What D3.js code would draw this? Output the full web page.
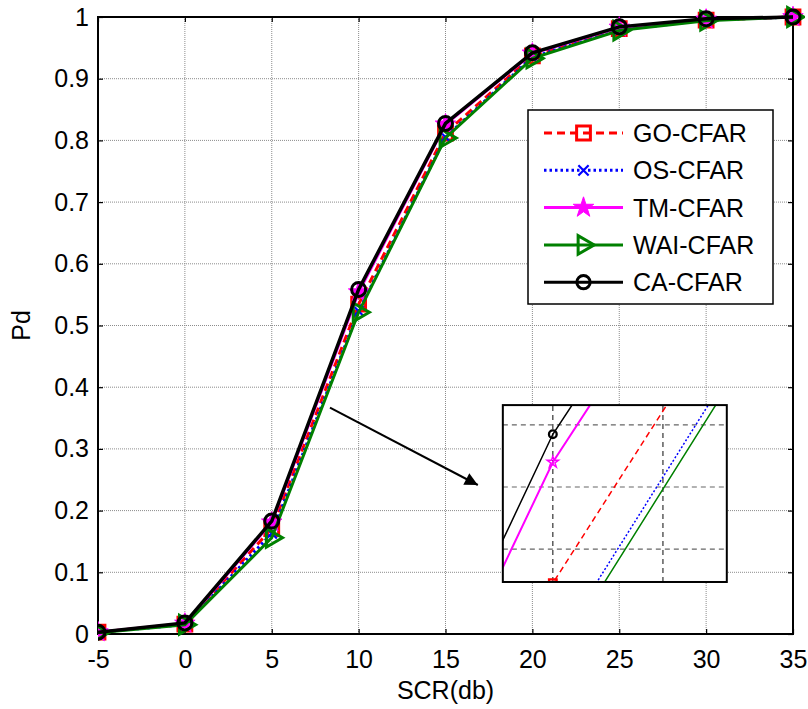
<!DOCTYPE html>
<html>
<head>
<meta charset="utf-8">
<script src="https://cdn.jsdelivr.net/npm/d3@7"></script>
<style>
    body { margin: 0; background: #ffffff; }
    text { font-family: "Liberation Sans", Arial, sans-serif; fill: #000; }
</style>
</head>
<body>
<div id="chart"></div>
<script>
// Chart values
var scr = [-5, 0, 5, 10, 15, 20, 25, 30, 35];
var goCfar = [0.003, 0.016, 0.171, 0.5345, 0.812, 0.937, 0.981, 0.995, 1.0];
var osCfar = [0.003, 0.015, 0.163, 0.5234, 0.8054, 0.935, 0.979, 0.995, 1.0];
var tmCfar = [0.003, 0.017, 0.181, 0.554, 0.826, 0.941, 0.983, 0.996, 1.0];
var waiCfar = [0.002, 0.015, 0.156, 0.5214, 0.804, 0.933, 0.978, 0.994, 1.0];
var caCfar = [0.003, 0.018, 0.183, 0.5585, 0.8275, 0.942, 0.984, 0.997, 1.0];

var seriesNames = ["GO-CFAR", "OS-CFAR", "TM-CFAR", "WAI-CFAR", "CA-CFAR"];
var xTicks = [-5, 0, 5, 10, 15, 20, 25, 30, 35];
var yTicks = [0, 0.1, 0.2, 0.3, 0.4, 0.5, 0.6, 0.7, 0.8, 0.9, 1];

// zoomed window shown in the inset
var insetX = [9.773, 10.79];
var insetY = [0.5347, 0.5632];
var insetXTicks = [10, 10.5];
var insetYTicks = [0.54, 0.55, 0.56];

var width = 808;
var height = 709;
const fontSize = 25;

// Series styles
var styles = [
    {color: "#ff0000", dash: "8,5", marker: "square"},
    {color: "#0000ff", dash: "2.5,3", marker: "asterisk"},
    {color: "#ff00ff", dash: null, marker: "star"},
    {color: "#008000", dash: null, marker: "triangle"},
    {color: "#000000", dash: null, marker: "circle"}
];

var seriesValues = [goCfar, osCfar, tmCfar, waiCfar, caCfar];
var series = seriesNames.map(function (name, i) {
    return {
        name: name,
        style: styles[i],
        points: scr.map(function (x, j) {
            return {x: x, y: seriesValues[i][j]};
        })
    };
});

var x = d3.scaleLinear().domain([-5, 35]).range([98, 793]);
var y = d3.scaleLinear().domain([0, 1]).range([634, 17]);

var svg = d3.select("#chart").append("svg")
    .attr("width", width)
    .attr("height", height);

svg.append("rect")
    .attr("width", width)
    .attr("height", height)
    .attr("fill", "#ffffff");

// clip path for the main plot area
var defs = svg.append("defs");
defs.append("clipPath").attr("id", "plotclip")
    .append("rect")
    .attr("x", x.range()[0]).attr("y", y.range()[1] - 12)
    .attr("width", x.range()[1] - x.range()[0] + 12)
    .attr("height", y.range()[0] - y.range()[1] + 24);

// arrowhead for the annotation arrow
defs.append("marker")
    .attr("id", "arrowhead")
    .attr("viewBox", "0 -5 10 10")
    .attr("refX", 10)
    .attr("refY", 0)
    .attr("markerUnits", "userSpaceOnUse")
    .attr("markerWidth", 15)
    .attr("markerHeight", 13)
    .attr("orient", "auto")
    .append("path")
    .attr("d", "M0,-5L10,0L0,5Z")
    .attr("fill", "#000");

// Grid
var grid = svg.append("g").attr("class", "grid");
grid.selectAll(".vgrid")
    .data(xTicks.slice(1, -1))
    .enter().append("line")
    .attr("x1", function (d) { return x(d); })
    .attr("x2", function (d) { return x(d); })
    .attr("y1", y(0))
    .attr("y2", y(1))
    .style("stroke", "#8c8c8c")
    .style("stroke-width", 1)
    .style("stroke-dasharray", "1,1");
grid.selectAll(".hgrid")
    .data(yTicks.slice(1, -1))
    .enter().append("line")
    .attr("x1", x(-5))
    .attr("x2", x(35))
    .attr("y1", function (d) { return y(d); })
    .attr("y2", function (d) { return y(d); })
    .style("stroke", "#8c8c8c")
    .style("stroke-width", 1)
    .style("stroke-dasharray", "1,1");

// Axes (ticks point inwards like matlab)
function styleAxis(g) {
    g.select(".domain").remove();
    g.selectAll(".tick line").style("stroke", "#000").style("stroke-width", 1.2);
    g.selectAll(".tick text").style("font-size", fontSize + "px")
        .style("font-family", "'Liberation Sans', Arial, sans-serif");
}

svg.append("g")
    .attr("transform", "translate(0," + y(0) + ")")
    .call(d3.axisBottom(x).tickValues(xTicks).tickSize(-5).tickPadding(16)
        .tickFormat(function (d) { return String(d); }))
    .call(styleAxis);

svg.append("g")
    .attr("transform", "translate(" + x(-5) + ",0)")
    .call(d3.axisLeft(y).tickValues(yTicks).tickSize(-5).tickPadding(9)
        .tickFormat(function (d) { return String(d); }))
    .call(styleAxis);

svg.append("g")
    .attr("transform", "translate(0," + y(1) + ")")
    .call(d3.axisTop(x).tickValues(xTicks).tickSize(-5).tickFormat(""))
    .call(styleAxis);

svg.append("g")
    .attr("transform", "translate(" + x(35) + ",0)")
    .call(d3.axisRight(y).tickValues(yTicks).tickSize(-5).tickFormat(""))
    .call(styleAxis);

// Box
svg.append("rect")
    .attr("x", x(-5))
    .attr("y", y(1))
    .attr("width", x(35) - x(-5))
    .attr("height", y(0) - y(1))
    .attr("fill", "none")
    .style("stroke", "#000")
    .style("stroke-width", 2);

// Axis labels
svg.append("text")
    .attr("x", (x(-5) + x(35)) / 2)
    .attr("y", 699)
    .attr("text-anchor", "middle")
    .style("font-size", fontSize + "px")
    .text("SCR(db)");

svg.append("text")
    .attr("transform", "translate(30," + ((y(0) + y(1)) / 2) + ") rotate(-90)")
    .attr("text-anchor", "middle")
    .style("font-size", fontSize + "px")
    .text("Pd");

/**
 * Appends a marker symbol of the given style at 0,0 of the selection
 * @param {object} sel d3 selection of g elements
 * @param {object} st series style
 * @param {number} scale marker scaling
 */
function drawMarker(sel, st, scale, filledStar) {
    var sw = 3 * Math.min(1, scale * 1.4);
    if (st.marker === "square") {
        sel.append("path")
            .attr("d", d3.symbol(d3.symbolSquare, 190 * scale * scale))
            .attr("fill", "none").style("stroke", st.color).style("stroke-width", sw);
    } else if (st.marker === "asterisk") {
        sel.append("path")
            .attr("d", d3.symbol(d3.symbolTimes, 70 * scale * scale))
            .attr("fill", "none").style("stroke", st.color).style("stroke-width", 2.2);
    } else if (st.marker === "star") {
        sel.append("path")
            .attr("d", d3.symbol(d3.symbolStar, 130 * scale * scale))
            .attr("fill", filledStar ? st.color : "none")
            .style("stroke", st.color).style("stroke-width", filledStar ? 1 : 1.5);
    } else if (st.marker === "triangle") {
        sel.append("path")
            .attr("d", d3.symbol(d3.symbolTriangle, 150 * scale * scale))
            .attr("transform", "rotate(90)")
            .attr("fill", "none").style("stroke", st.color).style("stroke-width", sw);
    } else if (st.marker === "circle") {
        sel.append("path")
            .attr("d", d3.symbol(d3.symbolCircle, Math.PI * 49 * scale * scale))
            .attr("fill", "none").style("stroke", st.color).style("stroke-width", sw);
    }
}

// Main lines
var line = d3.line()
    .x(function (d) { return x(d.x); })
    .y(function (d) { return y(d.y); });

var plot = svg.append("g").attr("clip-path", "url(#plotclip)");

series.forEach(function (s) {
    var g = plot.append("g").attr("class", "series");
    g.append("path")
        .datum(s.points)
        .attr("d", line)
        .attr("fill", "none")
        .style("stroke", s.style.color)
        .style("stroke-width", s.style.marker === "circle" ? 3.5 : 3)
        .style("stroke-dasharray", s.style.dash);
    g.selectAll(".mk")
        .data(s.points)
        .enter().append("g")
        .attr("transform", function (d) { return "translate(" + x(d.x) + "," + y(d.y) + ")"; })
        .each(function () { drawMarker(d3.select(this), s.style, 1, true); });
});

// Legend
var legend = svg.append("g").attr("class", "legend");
legend.append("rect")
    .attr("x", 528).attr("y", 110)
    .attr("width", 245).attr("height", 194)
    .attr("fill", "#ffffff")
    .style("stroke", "#000")
    .style("stroke-width", 1.5);

var entry = legend.selectAll(".entry")
    .data(series)
    .enter().append("g")
    .attr("class", "entry")
    .attr("transform", function (d, i) { return "translate(0," + (133 + i * 37.3) + ")"; });

entry.append("line")
    .attr("x1", 544).attr("x2", 623)
    .style("stroke", function (d) { return d.style.color; })
    .style("stroke-width", 3)
    .style("stroke-dasharray", function (d) { return d.style.dash; });

entry.append("g")
    .attr("transform", "translate(583.5,0)")
    .each(function (d) { drawMarker(d3.select(this), d.style, d.style.marker === "circle" ? 0.95 : 1, true); });

entry.append("text")
    .attr("x", 633)
    .attr("dy", "0.36em")
    .style("font-size", fontSize + "px")
    .text(function (d) { return d.name; });

// Arrow pointing to the inset
svg.append("line")
    .attr("x1", x(8.35)).attr("y1", y(0.367))
    .attr("x2", x(16.86)).attr("y2", y(0.2415))
    .style("stroke", "#000")
    .style("stroke-width", 2)
    .attr("marker-end", "url(#arrowhead)");

// Inset: zoom on the curves around SCR = 10
var ix = d3.scaleLinear().domain(insetX).range([x(18.3), x(31.19)]);
var iy = d3.scaleLinear().domain(insetY).range([y(0.0843), y(0.371)]);

var inset = svg.append("g").attr("class", "inset");
defs.append("clipPath").attr("id", "insetclip")
    .append("rect")
    .attr("x", ix.range()[0]).attr("y", iy.range()[1])
    .attr("width", ix.range()[1] - ix.range()[0])
    .attr("height", iy.range()[0] - iy.range()[1]);

inset.append("rect")
    .attr("x", ix.range()[0]).attr("y", iy.range()[1])
    .attr("width", ix.range()[1] - ix.range()[0])
    .attr("height", iy.range()[0] - iy.range()[1])
    .attr("fill", "#ffffff");

inset.selectAll(".ivgrid")
    .data(insetXTicks)
    .enter().append("line")
    .attr("x1", function (d) { return ix(d); })
    .attr("x2", function (d) { return ix(d); })
    .attr("y1", iy.range()[0]).attr("y2", iy.range()[1])
    .style("stroke", "#333")
    .style("stroke-width", 1.2)
    .style("stroke-dasharray", "5,4");

inset.selectAll(".ihgrid")
    .data(insetYTicks)
    .enter().append("line")
    .attr("x1", ix.range()[0]).attr("x2", ix.range()[1])
    .attr("y1", function (d) { return iy(d); })
    .attr("y2", function (d) { return iy(d); })
    .style("stroke", "#666")
    .style("stroke-width", 1.2)
    .style("stroke-dasharray", "5,4");

var iline = d3.line()
    .x(function (d) { return ix(d.x); })
    .y(function (d) { return iy(d.y); });

var iplot = inset.append("g").attr("clip-path", "url(#insetclip)");
series.forEach(function (s) {
    iplot.append("path")
        .datum(s.points)
        .attr("d", iline)
        .attr("fill", "none")
        .style("stroke", s.style.color)
        .style("stroke-width", s.style.marker === "star" ? 2 : 1.5)
        .style("stroke-dasharray", s.style.dash ? (s.style.marker === "square" ? "6,4" : "2,2") : null);
    iplot.selectAll(".imk")
        .data(s.points.filter(function (d) {
            return d.x >= insetX[0] && d.x <= insetX[1];
        }))
        .enter().append("g")
        .attr("transform", function (d) { return "translate(" + ix(d.x) + "," + iy(d.y) + ")"; })
        .each(function () { drawMarker(d3.select(this), s.style, 0.55, false); });
});

inset.append("rect")
    .attr("x", ix.range()[0]).attr("y", iy.range()[1])
    .attr("width", ix.range()[1] - ix.range()[0])
    .attr("height", iy.range()[0] - iy.range()[1])
    .attr("fill", "none")
    .style("stroke", "#000")
    .style("stroke-width", 2);
</script>
</body>
</html>
